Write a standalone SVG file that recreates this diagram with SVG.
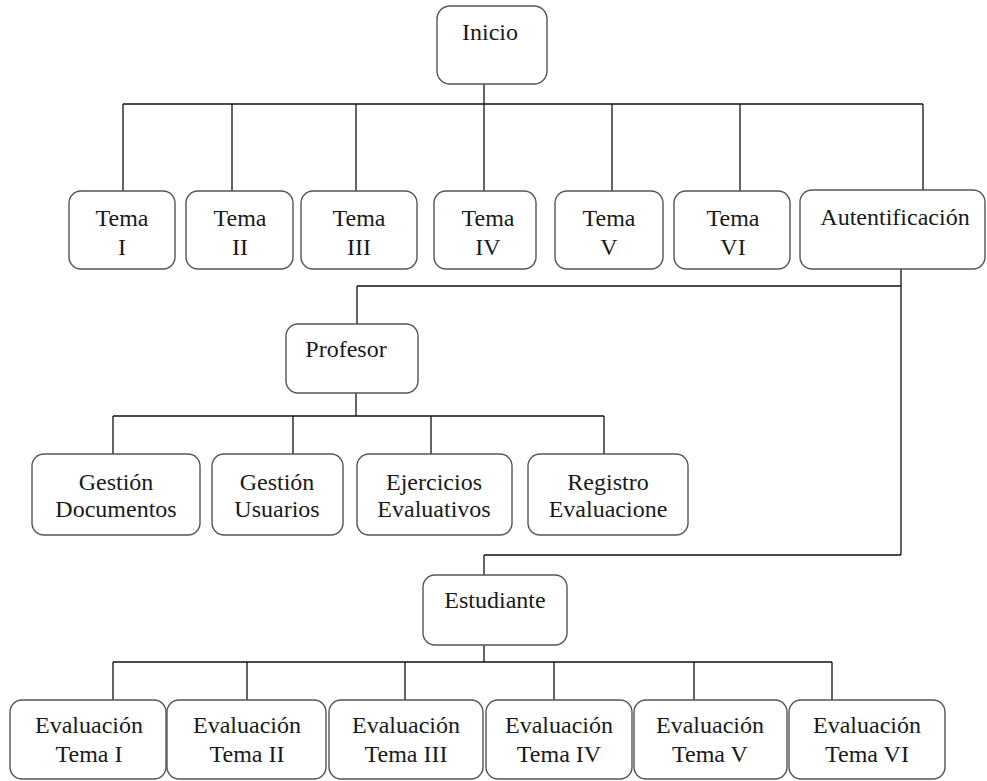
<svg xmlns="http://www.w3.org/2000/svg" width="987" height="781" viewBox="0 0 987 781">
  <style>
    .box { fill: #ffffff; stroke: #555555; stroke-width: 1.4; }
    .lbl { font-family: "Liberation Serif", "Times New Roman", serif; font-size: 24px; fill: #1a1a1a; text-anchor: middle; }
    .wire { fill: none; stroke: #111111; stroke-width: 1.3; }
  </style>
  <rect width="987" height="781" fill="#ffffff"/>

  <!-- connectors -->
  <g id="connectors" class="wire">
    <path d="M484 84 V104 M123 104 H923 M123 104 V191 M232 104 V191 M356 104 V191 M484 104 V191 M612 104 V191 M740 104 V191 M923 104 V190"/>
    <path d="M901 269 V555 M357 286 H901 M357 286 V324 M484 555 H901 M484 555 V575"/>
    <path d="M356 393 V416 M113 416 H604 M113 416 V454 M293 416 V454 M431 416 V454 M604 416 V454"/>
    <path d="M484 645 V662 M113 662 H832 M113 662 V700 M247 662 V700 M405 662 V700 M554 662 V700 M694 662 V700 M832 662 V700"/>
  </g>

  <!-- root -->
  <g id="inicio">
    <rect class="box" x="437" y="6" width="110" height="78" rx="13"/>
    <text class="lbl" x="490" y="40">Inicio</text>
  </g>

  <!-- topics -->
  <g id="tema1">
    <rect class="box" x="69" y="191" width="106" height="78" rx="12"/>
    <text class="lbl" x="122" y="226">Tema</text>
    <text class="lbl" x="122" y="255">I</text>
  </g>
  <g id="tema2">
    <rect class="box" x="186" y="191" width="107" height="78" rx="12"/>
    <text class="lbl" x="240" y="226">Tema</text>
    <text class="lbl" x="240" y="255">II</text>
  </g>
  <g id="tema3">
    <rect class="box" x="301" y="191" width="116" height="78" rx="12"/>
    <text class="lbl" x="359" y="226">Tema</text>
    <text class="lbl" x="359" y="255">III</text>
  </g>
  <g id="tema4">
    <rect class="box" x="434" y="191" width="102" height="78" rx="12"/>
    <text class="lbl" x="488" y="226">Tema</text>
    <text class="lbl" x="488" y="255">IV</text>
  </g>
  <g id="tema5">
    <rect class="box" x="555" y="191" width="108" height="78" rx="12"/>
    <text class="lbl" x="609" y="226">Tema</text>
    <text class="lbl" x="609" y="255">V</text>
  </g>
  <g id="tema6">
    <rect class="box" x="674" y="191" width="116" height="78" rx="12"/>
    <text class="lbl" x="733" y="226">Tema</text>
    <text class="lbl" x="733" y="255">VI</text>
  </g>
  <g id="autentificacion">
    <rect class="box" x="800" y="190" width="185" height="79" rx="12"/>
    <text class="lbl" x="895" y="225">Autentificación</text>
  </g>

  <!-- teacher branch -->
  <g id="profesor">
    <rect class="box" x="286" y="324" width="132" height="69" rx="12"/>
    <text class="lbl" x="346" y="357">Profesor</text>
  </g>
  <g id="gestion-documentos">
    <rect class="box" x="32" y="454" width="168" height="81" rx="12"/>
    <text class="lbl" x="116" y="490">Gestión</text>
    <text class="lbl" x="116" y="517">Documentos</text>
  </g>
  <g id="gestion-usuarios">
    <rect class="box" x="212" y="454" width="131" height="81" rx="12"/>
    <text class="lbl" x="277" y="490">Gestión</text>
    <text class="lbl" x="277" y="517">Usuarios</text>
  </g>
  <g id="ejercicios">
    <rect class="box" x="357" y="454" width="155" height="81" rx="12"/>
    <text class="lbl" x="434" y="490">Ejercicios</text>
    <text class="lbl" x="434" y="517">Evaluativos</text>
  </g>
  <g id="registro">
    <rect class="box" x="528" y="454" width="160" height="81" rx="12"/>
    <text class="lbl" x="608" y="490">Registro</text>
    <text class="lbl" x="608" y="517">Evaluacione</text>
  </g>

  <!-- student branch -->
  <g id="estudiante">
    <rect class="box" x="423" y="575" width="144" height="70" rx="12"/>
    <text class="lbl" x="495" y="608">Estudiante</text>
  </g>
  <g id="eval1">
    <rect class="box" x="10" y="700" width="156" height="79" rx="12"/>
    <text class="lbl" x="89" y="733">Evaluación</text>
    <text class="lbl" x="89" y="762">Tema I</text>
  </g>
  <g id="eval2">
    <rect class="box" x="167" y="700" width="159" height="79" rx="12"/>
    <text class="lbl" x="247" y="733">Evaluación</text>
    <text class="lbl" x="247" y="762">Tema II</text>
  </g>
  <g id="eval3">
    <rect class="box" x="329" y="700" width="154" height="79" rx="12"/>
    <text class="lbl" x="406" y="733">Evaluación</text>
    <text class="lbl" x="406" y="762">Tema III</text>
  </g>
  <g id="eval4">
    <rect class="box" x="486" y="700" width="146" height="79" rx="12"/>
    <text class="lbl" x="559" y="733">Evaluación</text>
    <text class="lbl" x="559" y="762">Tema IV</text>
  </g>
  <g id="eval5">
    <rect class="box" x="634" y="700" width="153" height="79" rx="12"/>
    <text class="lbl" x="710" y="733">Evaluación</text>
    <text class="lbl" x="710" y="762">Tema V</text>
  </g>
  <g id="eval6">
    <rect class="box" x="789" y="700" width="156" height="79" rx="12"/>
    <text class="lbl" x="867" y="733">Evaluación</text>
    <text class="lbl" x="867" y="762">Tema VI</text>
  </g>
</svg>
